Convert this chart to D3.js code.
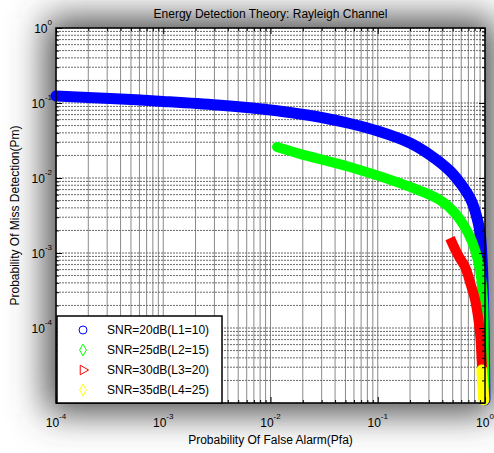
<!DOCTYPE html>
<html>
<head>
<meta charset="utf-8">
<script src="https://cdn.jsdelivr.net/npm/d3@7"></script>
<style>
  body { margin: 0; background: #fff; }
  svg text { font-family: "Liberation Sans", Arial, sans-serif; fill: #000; }
</style>
</head>
<body>
<div class="canvas"></div>
<script>
// [Pfa, Pm] pairs
const snr20 = [[1e-4, 0.124], [3.2e-4, 0.115], [1e-3, 0.105], [3.2e-3, 0.094], [0.01, 0.0807],
  [0.0188, 0.0714], [0.0316, 0.0631], [0.055, 0.0533], [0.1, 0.0423], [0.2, 0.0293], [0.307, 0.0203],
  [0.472, 0.0124], [0.624, 0.0076], [0.74, 0.0051], [0.824, 0.0033], [0.898, 0.0019], [0.938, 8.6e-4],
  [0.968, 2.4e-4], [0.989, 3.7e-5], [0.998, 1.1e-5]]
const snr25 = [[0.0115, 0.0259], [0.0188, 0.0210], [0.055, 0.0140], [0.2, 0.0076], [0.38, 0.0051],
  [0.525, 0.0034], [0.695, 0.00185], [0.807, 0.0011], [0.898, 5.9e-4], [0.958, 2.4e-4],
  [0.975, 5.1e-5], [0.985, 1.1e-5]]
const snr30 = [[0.472, 0.00158], [0.56, 9.4e-4], [0.652, 6.5e-4], [0.74, 3.7e-4], [0.807, 2.4e-4],
  [0.898, 8.6e-5], [0.938, 3.0e-5], [0.975, 1.1e-5]]
const snr35 = [[0.935, 2.75e-5], [0.955, 1.7e-5], [0.975, 1.1e-5]]

const seriesNames = ['SNR=20dB(L1=10)', 'SNR=25dB(L2=15)', 'SNR=30dB(L3=20)', 'SNR=35dB(L4=25)']
const seriesColors = ['#0000ff', '#00ff00', '#ff0000', '#ffff00']
const xTickExponents = [-4, -3, -2, -1, 0]
const yTickExponents = [0, -1, -2, -3, -4]

class MissDetectionChart {
  constructor(margin, size) {
    this.margin = margin
    this.size = size

    this.svg = d3.select('.canvas')
      .append('svg')
      .attr('width', size.width)
      .attr('height', size.height)

    this.makeShadow()
    this.container = this.svg.append('g')
      .attr('transform', `translate(${margin.left}, ${margin.top})`)

    this.setUpScales()
    this.drawGrid()
    this.drawSeries([snr20, snr25, snr30, snr35])
    this.drawTicks()
    this.drawLegend()
    this.drawLabels()
  }

  get dimensions() {
    return {
      width: this.size.width - this.margin.left - this.margin.right,
      height: this.size.height - this.margin.top - this.margin.bottom
    }
  }

  makeShadow() {
    const blur = this.svg.append('defs').append('filter')
      .attr('id', 'glow')
      .attr('x', '-50%').attr('y', '-50%')
      .attr('width', '200%').attr('height', '200%')
    blur.append('feGaussianBlur').attr('stdDeviation', 18)

    this.svg.append('rect')
      .attr('x', this.margin.left - 10)
      .attr('y', this.margin.top - 10)
      .attr('width', this.dimensions.width + 20)
      .attr('height', this.dimensions.height + 20)
      .attr('fill', '#4a4a4a')
      .attr('filter', 'url(#glow)')
  }

  setUpScales() {
    this.x = d3.scaleLog().domain([1e-4, 1]).range([0, this.dimensions.width])
    this.y = d3.scaleLog().domain([1e-5, 1]).range([this.dimensions.height, 0])
  }

  logSteps(low, high) {
    const values = []
    for (let e = low; e < high; e++) {
      for (let k = 1; k < 10; k++) values.push(k * Math.pow(10, e))
    }
    values.push(Math.pow(10, high))
    return values
  }

  drawGrid() {
    const {width, height} = this.dimensions
    this.container.append('rect')
      .attr('width', width)
      .attr('height', height)
      .attr('fill', '#fff')

    const grid = this.container.append('g')
    grid.selectAll('.vgrid')
      .data(this.logSteps(-4, 0))
      .enter().append('line')
      .attr('x1', d => this.x(d)).attr('x2', d => this.x(d))
      .attr('y1', 0).attr('y2', height)
      .attr('stroke', '#8a8a8a')
      .attr('stroke-width', 1)

    grid.selectAll('.hgrid')
      .data(this.logSteps(-5, 0))
      .enter().append('line')
      .attr('x1', 0).attr('x2', width)
      .attr('y1', d => this.y(d)).attr('y2', d => this.y(d))
      .attr('stroke', '#6a6a6a')
      .attr('stroke-width', 1)
      .attr('stroke-dasharray', '2,1')
  }

  drawSeries(allSeries) {
    const line = d3.line()
      .x(([pfa]) => this.x(pfa))
      .y(([, pm]) => this.y(pm))
      .curve(d3.curveCatmullRom)

    const caps = ['round', 'round', 'butt', 'round']
    const widths = [11, 10, 10, 11]
    allSeries.forEach((data, i) => {
      this.container.append('path')
        .datum(data)
        .attr('fill', 'none')
        .attr('stroke', seriesColors[i])
        .attr('stroke-width', widths[i])
        .attr('stroke-linecap', caps[i])
        .attr('stroke-linejoin', 'round')
        .attr('d', line)
    })
  }

  drawTicks() {
    const {width, height} = this.dimensions
    const minorX = this.logSteps(-4, 0)
    const minorY = this.logSteps(-5, 0)
    const isMajor = v => Math.abs(Math.log10(v) - Math.round(Math.log10(v))) < 1e-9

    const sides = [
      {axis: d3.axisBottom(this.x), at: `translate(0, ${height})`, values: minorX},
      {axis: d3.axisTop(this.x), at: 'translate(0, 0)', values: minorX},
      {axis: d3.axisLeft(this.y), at: 'translate(0, 0)', values: minorY},
      {axis: d3.axisRight(this.y), at: `translate(${width}, 0)`, values: minorY}
    ]
    sides.forEach(({axis, at, values}) => {
      const g = this.container.append('g')
        .attr('transform', at)
        .call(axis.tickValues(values).tickFormat('').tickSizeOuter(0).tickSizeInner(-3))
      g.select('.domain').remove()
      g.selectAll('.tick line').attr('stroke', '#000')
      g.selectAll('.tick').filter(isMajor).select('line')
        .each(function () {
          const el = d3.select(this)
          if (el.attr('y2') !== null) el.attr('y2', +el.attr('y2') * 2)
          if (el.attr('x2') !== null) el.attr('x2', +el.attr('x2') * 2)
        })
    })

    this.container.append('rect')
      .attr('width', width)
      .attr('height', height)
      .attr('fill', 'none')
      .attr('stroke', '#000')
      .attr('stroke-width', 1.5)

    const xLabels = this.svg.append('g')
    xTickExponents.forEach(e => {
      const t = xLabels.append('text')
        .attr('x', this.margin.left + this.x(Math.pow(10, e)))
        .attr('y', this.margin.top + height + 24)
        .attr('text-anchor', 'middle')
        .attr('font-size', 12)
      t.append('tspan').text('10')
      t.append('tspan').attr('dy', -8).attr('font-size', 8).text(e)
    })

    const yLabels = this.svg.append('g')
    yTickExponents.forEach(e => {
      const t = yLabels.append('text')
        .attr('x', this.margin.left - 4)
        .attr('y', this.margin.top + this.y(Math.pow(10, e)) + 5)
        .attr('text-anchor', 'end')
        .attr('font-size', 12)
      t.append('tspan').text('10')
      t.append('tspan').attr('dy', -8).attr('font-size', 8).text(e)
    })
  }

  drawLegend() {
    const {height} = this.dimensions
    const legend = this.container.append('g')
      .attr('transform', `translate(1, ${height - 87})`)

    legend.append('rect')
      .attr('width', 165)
      .attr('height', 87)
      .attr('fill', '#fff')
      .attr('stroke', '#000')
      .attr('stroke-width', 1.5)

    const symbols = [d3.symbolCircle, d3.symbolDiamond, d3.symbolTriangle, d3.symbolDiamond]
    const rotations = [0, 0, 90, 0]
    seriesNames.forEach((name, i) => {
      const row = legend.append('g')
        .attr('transform', `translate(0, ${14 + i * 20})`)
      row.append('path')
        .attr('d', d3.symbol().type(symbols[i]).size(i === 0 ? 50 : 40)())
        .attr('transform', `translate(26, 0) rotate(${rotations[i]})`)
        .attr('fill', 'none')
        .attr('stroke', seriesColors[i])
        .attr('stroke-width', 1)
      row.append('text')
        .attr('x', 50)
        .attr('y', 4)
        .attr('font-size', 12)
        .text(name)
    })
  }

  drawLabels() {
    const {width, height} = this.dimensions
    this.svg.append('text')
      .attr('x', this.margin.left + width / 2)
      .attr('y', 18)
      .attr('text-anchor', 'middle')
      .attr('font-size', 12)
      .text('Energy Detection Theory: Rayleigh Channel')

    this.svg.append('text')
      .attr('x', this.margin.left + width / 2)
      .attr('y', this.margin.top + height + 41)
      .attr('text-anchor', 'middle')
      .attr('font-size', 12)
      .text('Probability Of False Alarm(Pfa)')

    this.svg.append('text')
      .attr('transform', `translate(19, ${this.margin.top + height / 2}) rotate(-90)`)
      .attr('text-anchor', 'middle')
      .attr('font-size', 12)
      .text('Probability Of Miss Detection(Pm)')
  }
}

new MissDetectionChart({top: 28, right: 9, bottom: 50, left: 56}, {width: 494, height: 453})
</script>
</body>
</html>
